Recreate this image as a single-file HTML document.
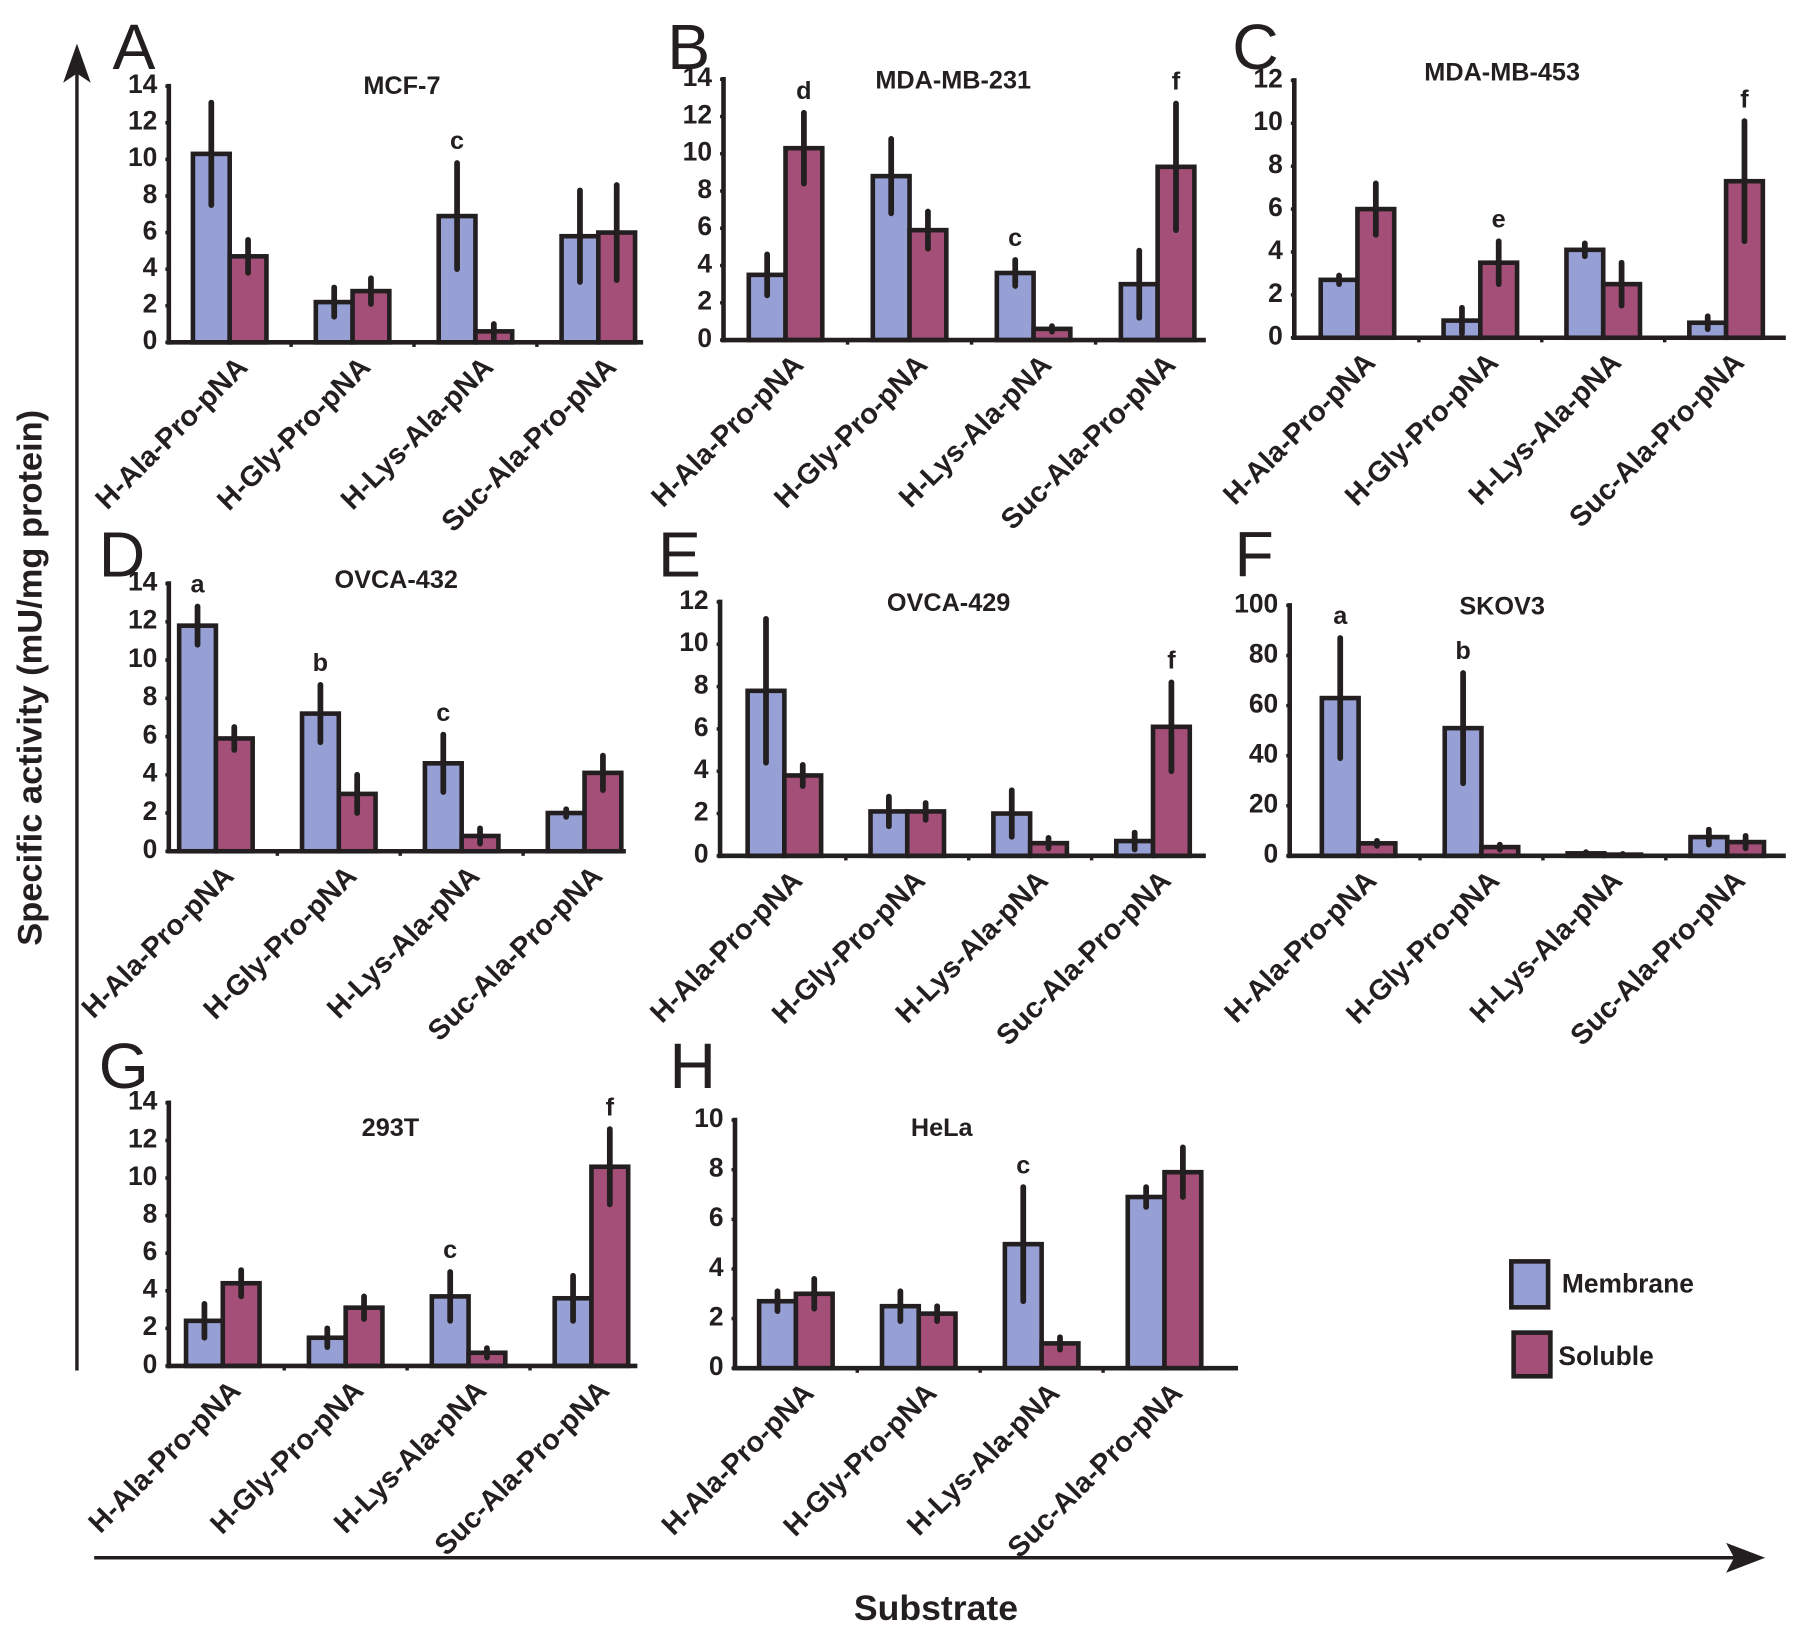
<!DOCTYPE html>
<html><head><meta charset="utf-8"><style>
html,body{margin:0;padding:0;background:#fff;}
svg{display:block;}
text{font-family:"Liberation Sans",Arial,sans-serif;font-weight:bold;fill:#231f20;}
text.plet{font-weight:normal;}
</style></head><body>
<svg id="fig" width="1795" height="1629" viewBox="0 0 1563 1418" preserveAspectRatio="none" xmlns="http://www.w3.org/2000/svg">
<g>
<line x1="67" y1="1193" x2="67" y2="60" stroke="#231f20" stroke-width="3"/>
<polygon points="67,38 55,72 67,64 79,72" fill="#231f20"/>
</g>
<text transform="translate(36,590) rotate(-90)" text-anchor="middle" font-size="30">Specific activity (mU/mg protein)</text>
<g>
<line x1="82" y1="1356" x2="1515" y2="1356" stroke="#231f20" stroke-width="3"/>
<polygon points="1537,1356 1503,1343 1510,1356 1503,1369" fill="#231f20"/>
</g>
<text x="815" y="1410" text-anchor="middle" font-size="31">Substrate</text>
<g>
<rect x="1316" y="1098" width="32" height="40" fill="#97a0d4" stroke="#231f20" stroke-width="4"/>
<text x="1360" y="1125" font-size="23">Membrane</text>
<rect x="1318" y="1160" width="32" height="38" fill="#a44f78" stroke="#231f20" stroke-width="4"/>
<text x="1357" y="1188" font-size="23">Soluble</text>
</g>
</svg>
<script>
// Categories
const categories = ["H-Ala-Pro-pNA","H-Gly-Pro-pNA","H-Lys-Ala-pNA","Suc-Ala-Pro-pNA"];
// Panel names
const panelLetters = ["A","B","C","D","E","F","G","H"];
const panelTitles = ["MCF-7","MDA-MB-231","MDA-MB-453","OVCA-432","OVCA-429","SKOV3","293T","HeLa"];
// Y-axis maxima and tick step
const yMax = [14,14,12,14,12,100,14,10];
const yStep = [2,2,2,2,2,20,2,2];
// Membrane values and errors
const memA=[10.3,2.2,6.9,5.8], memAErr=[2.8,0.8,2.9,2.5];
const memB=[3.5,8.8,3.6,3.0], memBErr=[1.1,2.0,0.7,1.8];
const memC=[2.7,0.8,4.1,0.7], memCErr=[0.2,0.6,0.3,0.3];
const memD=[11.8,7.2,4.6,2.0], memDErr=[1.0,1.5,1.5,0.2];
const memE=[7.8,2.1,2.0,0.7], memEErr=[3.4,0.7,1.1,0.4];
const memF=[63,51,1.0,7.5], memFErr=[24,22,0.5,3];
const memG=[2.4,1.5,3.7,3.6], memGErr=[0.9,0.5,1.3,1.2];
const memH=[2.7,2.5,5.0,6.9], memHErr=[0.4,0.6,2.3,0.4];
// Soluble values and errors
const solA=[4.7,2.8,0.6,6.0], solAErr=[0.9,0.7,0.4,2.6];
const solB=[10.3,5.9,0.6,9.3], solBErr=[1.9,1.0,0.15,3.4];
const solC=[6.0,3.5,2.5,7.3], solCErr=[1.2,1.0,1.0,2.8];
const solD=[5.9,3.0,0.8,4.1], solDErr=[0.6,1.0,0.4,0.9];
const solE=[3.8,2.1,0.6,6.1], solEErr=[0.5,0.4,0.25,2.1];
const solF=[5.0,3.5,0.5,5.5], solFErr=[1,1,0.3,2.5];
const solG=[4.4,3.1,0.7,10.6], solGErr=[0.7,0.6,0.25,2.0];
const solH=[3.0,2.2,1.0,7.9], solHErr=[0.6,0.3,0.25,1.0];
// Significance letters per category
const sigA=["","","c",""], sigB=["d","","c","f"], sigC=["","e","","f"], sigD=["a","b","c",""];
const sigE=["","","","f"], sigF=["a","b","",""], sigG=["","","c","f"], sigH=["","","c",""];

const mem=[memA,memB,memC,memD,memE,memF,memG,memH];
const memErr=[memAErr,memBErr,memCErr,memDErr,memEErr,memFErr,memGErr,memHErr];
const sol=[solA,solB,solC,solD,solE,solF,solG,solH];
const solErr=[solAErr,solBErr,solCErr,solDErr,solEErr,solFErr,solGErr,solHErr];
const sig=[sigA,sigB,sigC,sigD,sigE,sigF,sigG,sigH];

// Layout (pixels, separate from data)
const layout=[
 {ax:147,y0:298,yTop:75,g0:200,gap:107,xEnd:560,lx:98,ly:60,tx:350,ty:82},
 {ax:630,y0:296,yTop:69,g0:684,gap:108,xEnd:1050,lx:581,ly:60,tx:830,ty:77},
 {ax:1127,y0:294,yTop:70,g0:1182,gap:107,xEnd:1555,lx:1073,ly:60,tx:1308,ty:70},
 {ax:147,y0:741,yTop:508,g0:188,gap:107,xEnd:545,lx:86,ly:502,tx:345,ty:512},
 {ax:627,y0:745,yTop:524,g0:683,gap:107,xEnd:1050,lx:573,ly:502,tx:826,ty:532},
 {ax:1123,y0:745,yTop:527,g0:1183,gap:107,xEnd:1555,lx:1075,ly:502,tx:1308,ty:535},
 {ax:147,y0:1189,yTop:960,g0:194,gap:107,xEnd:555,lx:86,ly:947,tx:340,ty:989},
 {ax:640,y0:1191,yTop:975,g0:693,gap:107,xEnd:1078,lx:583,ly:947,tx:820,ty:989}
];
const NS="http://www.w3.org/2000/svg";
const svg=document.getElementById('fig');
function mk(tag,attrs,parent){const e=document.createElementNS(NS,tag);for(const k in attrs)e.setAttribute(k,attrs[k]);parent.appendChild(e);return e;}
const BW=32;
layout.forEach((L,p)=>{
  const g=mk('g',{},svg);
  
  
  const yScale=v=>L.y0-(v/yMax[p])*(L.y0-L.yTop);
  const xCenter=i=>L.g0+i*L.gap;
  const let_=mk('text',{x:L.lx,y:L.ly,'font-size':56,'class':'plet'},g);
  let_.textContent=panelLetters[p];
  
  
  const t=mk('text',{x:L.tx,y:L.ty,'text-anchor':'middle','font-size':22},g);
  t.textContent=panelTitles[p];
  
  
  const ya=mk('line',{x1:L.ax,y1:L.y0+2,x2:L.ax,y2:L.yTop-2,stroke:'#231f20','stroke-width':4},g);
  
  
  for(let v=0;v<=yMax[p];v+=yStep[p]){
    const y=yScale(v);
    mk('line',{x1:L.ax-3,y1:y,x2:L.ax,y2:y,stroke:'#231f20','stroke-width':3},g);
    const tl=mk('text',{x:L.ax-10,y:y+6,'text-anchor':'end','font-size':23},g);
    tl.textContent=v;
    
    
  }
  categories.forEach((c,i)=>{
    const cx=xCenter(i);
    [[mem[p][i],memErr[p][i],cx-BW,'#97a0d4','membrane'],[sol[p][i],solErr[p][i],cx,'#a44f78','soluble']].forEach(([v,e,x,col,nm])=>{
      const y=yScale(v);
      const r=mk('rect',{x:x,y:y,width:BW,height:Math.max(0,L.y0-y),fill:col,stroke:'#231f20','stroke-width':4},g);
      
      
      const eb=mk('line',{x1:x+BW/2,y1:yScale(v+e),x2:x+BW/2,y2:yScale(Math.max(0,v-e)),stroke:'#231f20','stroke-width':5,'stroke-linecap':'round'},g);
      
      
    });
    if(sig[p][i]){
      const top=Math.max(mem[p][i]+memErr[p][i],sol[p][i]+solErr[p][i]);
      const sx=(mem[p][i]+memErr[p][i]>=sol[p][i]+solErr[p][i])?cx-BW/2:cx+BW/2;
      const s=mk('text',{x:sx,y:yScale(top)-12,'text-anchor':'middle','font-size':22},g);
      s.textContent=sig[p][i];
      
      
    }
    const cl=mk('text',{'text-anchor':'end','font-size':25,transform:'translate('+(cx+17)+','+(L.y0+23)+') rotate(-45)'},g);
    cl.textContent=c;
    
    
    if(i>0) mk('line',{x1:cx-L.gap/2,y1:L.y0,x2:cx-L.gap/2,y2:L.y0+4,stroke:'#231f20','stroke-width':3},g);
  });
  const xa=mk('line',{x1:L.ax-2,y1:L.y0,x2:L.xEnd,y2:L.y0,stroke:'#231f20','stroke-width':4},g);
  
  
});
</script>
</body></html>
